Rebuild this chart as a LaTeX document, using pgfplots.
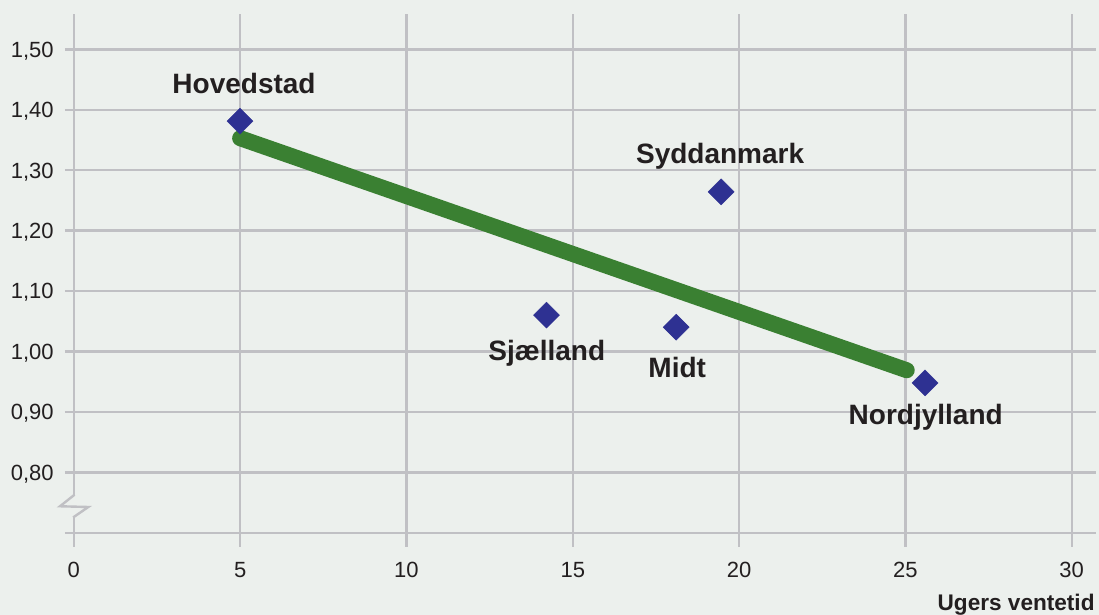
\documentclass[border=0pt]{standalone}
\usepackage{fontspec}
\setmainfont{Liberation Sans}
\usepackage{pgfplots}
\pgfplotsset{compat=1.18}
\definecolor{bgcol}{RGB}{236,240,237}
\definecolor{gridcol}{RGB}{192,192,196}
\definecolor{trendgreen}{RGB}{58,128,50}
\definecolor{markblue}{RGB}{46,49,146}
\definecolor{txt}{RGB}{35,31,32}

\begin{document}
\begin{tikzpicture}
\fill[bgcol] (0,0) rectangle (549.5bp,307.5bp);
\begin{axis}[
    at={(32.5bp,34.15bp)}, anchor=south west,
    scale only axis,
    width=515.5bp, height=266.2bp,
    xmin=-0.265, xmax=30.73,
    ymin=0.677, ymax=1.558,
    axis line style={draw=none},
    major tick length=0pt,
    grid=major,
    major grid style={gridcol, line width=1.2bp},
    xtick={0,5,...,30},
    ytick={0.8,0.9,...,1.5},
    extra y ticks={0.7},
    extra y tick labels={},
    extra y tick style={grid=major},
    ticklabel style={font=\fontsize{11bp}{13bp}\selectfont, text=txt, inner sep=0pt},
    xticklabel style={anchor=north, yshift=-7.5bp},
    yticklabel style={anchor=base east, xshift=-5.5bp, yshift=-3.9bp},
    /pgf/number format/assume math mode=true,
    yticklabel={\pgfmathprintnumber[use comma, fixed, fixed zerofill, precision=2]{\tick}},
    xticklabel={\pgfmathprintnumber[fixed, precision=0]{\tick}},
    clip=false,
]
% axis break on the y axis
\fill[bgcol] (axis cs:-0.15,0.7262) rectangle (axis cs:0.15,0.7621);
\draw[gridcol, line width=1.2bp, line join=miter]
    (axis cs:0,0.7625) -- (axis cs:0,0.7621) -- (axis cs:-0.415,0.7439)
    -- (axis cs:0.436,0.7427) -- (axis cs:0,0.7262) -- (axis cs:0,0.7258);

% trend line
\addplot[trendgreen, line width=8bp, line cap=round] coordinates {
    (5.0,1.353) (25.04,0.969)
};

% regions
\addplot[markblue, only marks, mark=square*, mark size=4.6bp,
    mark options={rotate=45, fill=markblue, draw=markblue, line width=0.2bp}] coordinates {
    (4.997,1.3813)
    (19.46,1.2642)
    (14.21,1.0601)
    (18.11,1.0402)
    (25.59,0.948)
};

\begin{scope}[every node/.style={anchor=base, text=txt, inner sep=0pt,
    font=\fontsize{14bp}{16bp}\selectfont\bfseries}]
\node at (axis cs:5.117,1.4277) {Hovedstad};
\node at (axis cs:19.43,1.3117) {Syddanmark};
\node at (axis cs:14.22,0.9844) {Sjælland};
\node at (axis cs:18.14,0.9574) {Midt};
\node at (axis cs:25.61,0.8796) {Nordjylland};
\end{scope}
\end{axis}
\node[anchor=base east, inner sep=0pt, text=txt,
    font=\fontsize{11.3bp}{13bp}\selectfont\bfseries] at (547.5bp,2.5bp) {Ugers ventetid};
\pgfresetboundingbox
\path[use as bounding box] (0,0) rectangle (549.5bp,307.5bp);
\end{tikzpicture}
\end{document}
